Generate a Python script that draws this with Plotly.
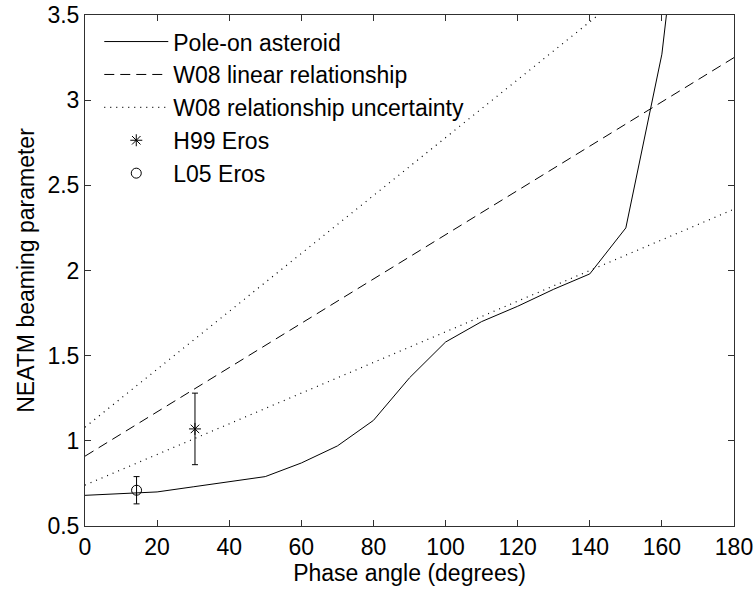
import numpy as np
import plotly.graph_objects as go

# Pole-on asteroid model: NEATM beaming parameter vs phase angle
phase_model = [0, 10, 20, 30, 40, 50, 60, 70, 80, 90, 100, 110, 120, 130, 140, 150, 160, 170]
eta_model = [0.68, 0.69, 0.70, 0.73, 0.76, 0.79, 0.87, 0.97, 1.12, 1.37, 1.58, 1.70,
             1.79, 1.89, 1.98, 2.25, 3.27, 5.10]

# W08 linear relationship eta = a + b*alpha, with its uncertainty bounds
phase_lin = [0, 180]
eta_w08 = [0.91, 3.25]
eta_w08_upper = [1.08, 4.14]
eta_w08_lower = [0.74, 2.36]

# Eros measurements
h99_phase = [30.5]
h99_eta = [1.07]
h99_err = [0.21]
l05_phase = [14.3]
l05_eta = [0.71]
l05_err = [0.08]

FONT = "Liberation Sans, Arial, Helvetica, sans-serif"
INK = "#000000"
FS = 23

fig = go.Figure()

fig.add_trace(go.Scatter(
    x=phase_model, y=eta_model, mode="lines", name="Pole-on asteroid",
    line=dict(color=INK, width=1)))

fig.add_trace(go.Scatter(
    x=phase_lin, y=eta_w08, mode="lines", name="W08 linear relationship",
    line=dict(color=INK, width=1, dash="10px,6px")))

fig.add_trace(go.Scatter(
    x=phase_lin, y=eta_w08_upper, mode="lines", name="W08 relationship uncertainty",
    line=dict(color=INK, width=1.2, dash="1px,5px")))

fig.add_trace(go.Scatter(
    x=phase_lin, y=eta_w08_lower, mode="lines", showlegend=False,
    line=dict(color=INK, width=1.2, dash="1px,5px")))

fig.add_trace(go.Scatter(
    x=h99_phase, y=h99_eta, mode="markers", name="H99 Eros",
    marker=dict(symbol="asterisk-open", size=10, color=INK, line=dict(color=INK, width=1)),
    error_y=dict(type="data", array=h99_err, color=INK, thickness=1, width=3)))

fig.add_trace(go.Scatter(
    x=l05_phase, y=l05_eta, mode="markers", name="L05 Eros",
    marker=dict(symbol="circle-open", size=10, color=INK, line=dict(color=INK, width=1)),
    error_y=dict(type="data", array=l05_err, color=INK, thickness=1, width=3)))

axis_common = dict(
    showgrid=False, zeroline=False, showline=True, mirror="ticks",
    linecolor="#303030", linewidth=1, ticks="inside", ticklen=6,
    tickcolor="#303030", tickwidth=1, automargin=False,
    tickfont=dict(family=FONT, size=FS, color=INK),
)

fig.update_layout(
    width=756, height=592,
    margin=dict(l=85, r=22, t=15, b=66),
    paper_bgcolor="white", plot_bgcolor="white",
    font=dict(family=FONT, size=FS, color=INK),
    xaxis=dict(range=[0, 180], tickvals=list(range(0, 181, 20)),
               title=dict(text="Phase angle (degrees)", standoff=6,
                          font=dict(family=FONT, size=FS, color=INK)),
               **axis_common),
    yaxis=dict(range=[0.5, 3.5], tickvals=[0.5, 1, 1.5, 2, 2.5, 3, 3.5],
               title=dict(text="NEATM beaming parameter", standoff=6,
                          font=dict(family=FONT, size=FS, color=INK)),
               **axis_common),
    legend=dict(x=0.022, y=0.99, xanchor="left", yanchor="top",
                bgcolor="rgba(0,0,0,0)", borderwidth=0,
                font=dict(family=FONT, size=FS, color=INK),
                itemwidth=64, traceorder="normal"),
    showlegend=True,
)

fig.write_html("out.html")
